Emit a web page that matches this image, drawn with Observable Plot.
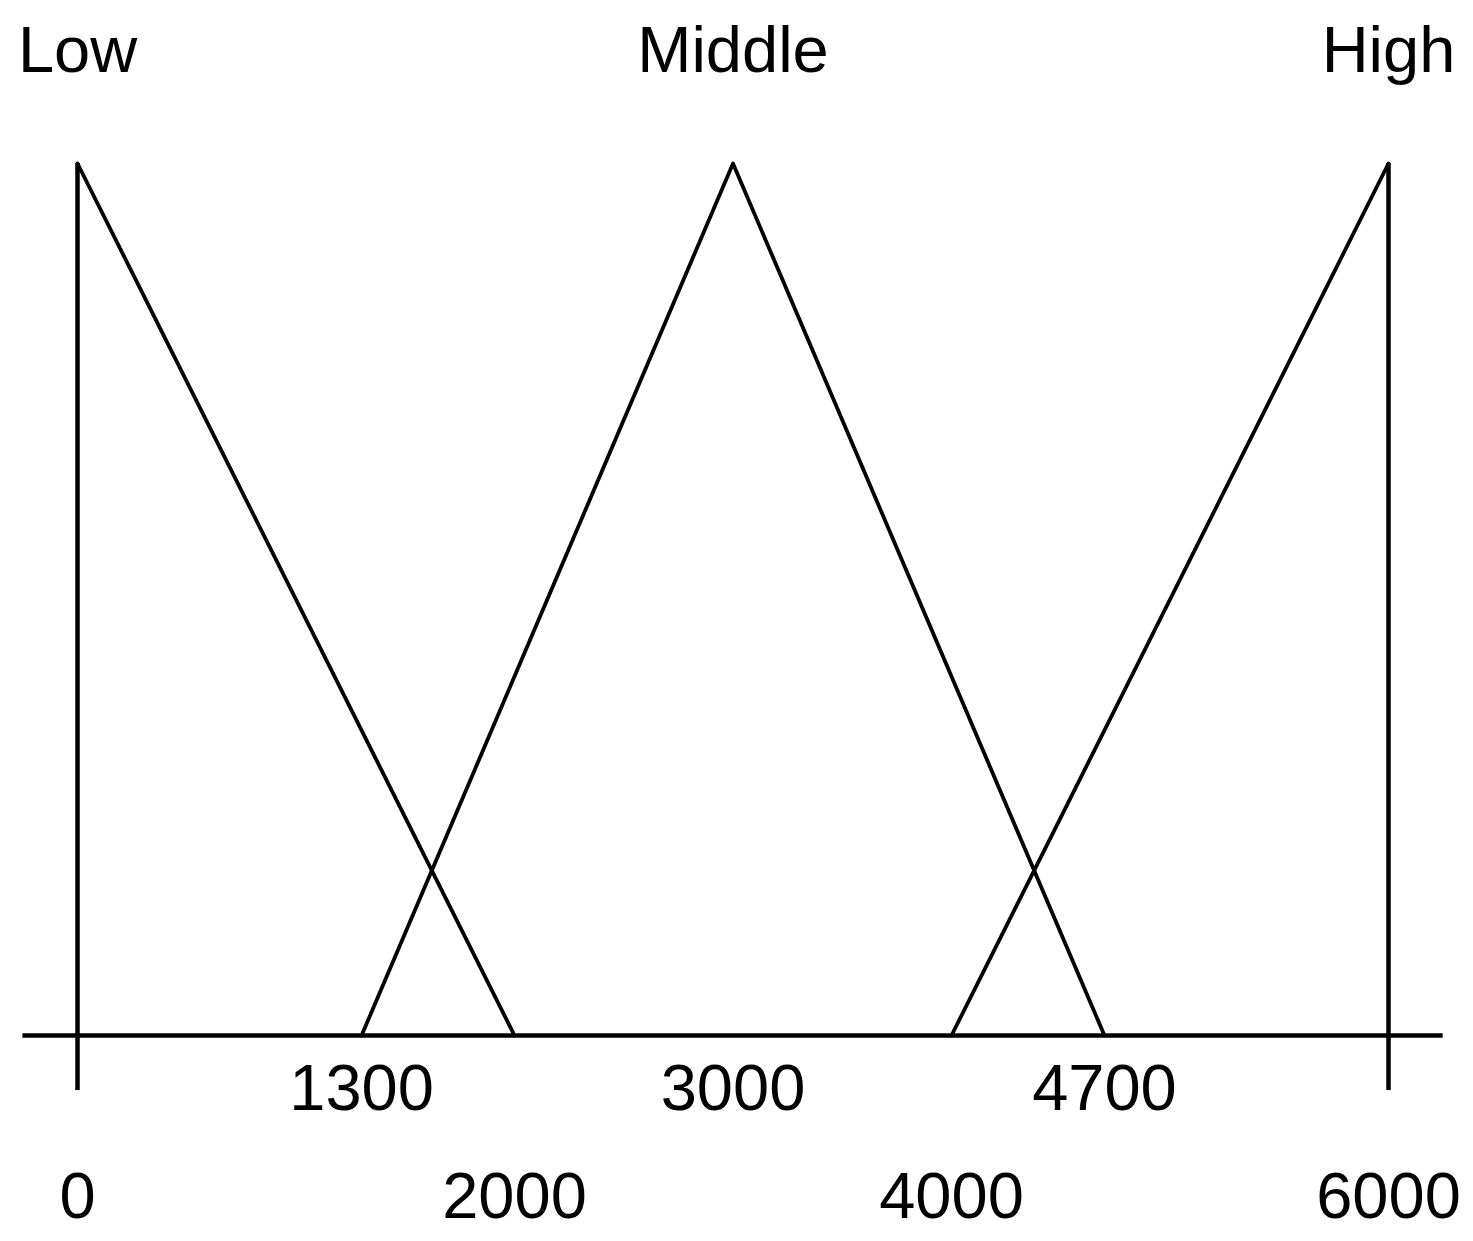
<!DOCTYPE html>
<html>
<head>
<meta charset="utf-8">
<script src="https://cdn.jsdelivr.net/npm/d3@7"></script>
<script src="https://cdn.jsdelivr.net/npm/@observablehq/plot@0.6"></script>
<style>
  html, body { margin: 0; padding: 0; background: #fff; }
  #chart svg { display: block; }
</style>
</head>
<body>
<div id="chart"></div>
<script>
// Fuzzy membership sets
const setNames = ["Low", "Middle", "High"];
const setPeaks = [0, 3000, 6000];
const lowX = [0, 2000];
const lowY = [1, 0];
const middleX = [1300, 3000, 4700];
const middleY = [0, 1, 0];
const highX = [4000, 6000];
const highY = [0, 1];
// tick labels (two rows)
const upperTicks = [1300, 3000, 4700];
const lowerTicks = [0, 2000, 4000, 6000];
const boundaryTicks = [0, 6000];
const axisExtent = [-250, 6250];

const series = [
  ...lowX.map((x, i) => ({set: "Low", x, y: lowY[i]})),
  ...middleX.map((x, i) => ({set: "Middle", x, y: middleY[i]})),
  ...highX.map((x, i) => ({set: "High", x, y: highY[i]}))
];
const labels = setNames.map((name, i) => ({name, x: setPeaks[i]}));

const font = "Liberation Sans, Arial, Helvetica, sans-serif";

const chart = Plot.plot({
  width: 1473,
  height: 1241,
  marginLeft: 77,
  marginRight: 85,
  marginTop: 163,
  marginBottom: 206,
  style: {fontFamily: font, background: "#fff", color: "#000"},
  x: {domain: [0, 6000], axis: null},
  y: {domain: [0, 1], axis: null},
  marks: [
    Plot.line(series, {x: "x", y: "y", z: "set", stroke: "#000", strokeWidth: 3.8}),
    Plot.ruleX(boundaryTicks, {x: d => d, y1: 0, y2: 1, stroke: "#000", strokeWidth: 4.5}),
    Plot.axisX(boundaryTicks, {tickSize: 55, tickFormat: () => "", strokeWidth: 4.5, stroke: "#000", label: null}),
    Plot.ruleY([0], {x1: axisExtent[0], x2: axisExtent[1], stroke: "#000", strokeWidth: 4.5}),
    Plot.text(labels, {x: "x", y: 1, text: "name", dy: -92, lineAnchor: "bottom", fontSize: 65, fill: "#000"}),
    Plot.text(upperTicks, {x: d => d, y: 0, text: d => String(d), dy: 74, lineAnchor: "bottom", fontSize: 65, fill: "#000"}),
    Plot.text(lowerTicks, {x: d => d, y: 0, text: d => String(d), dy: 182, lineAnchor: "bottom", fontSize: 65, fill: "#000"})
  ]
});
document.getElementById("chart").appendChild(chart);
</script>
</body>
</html>
